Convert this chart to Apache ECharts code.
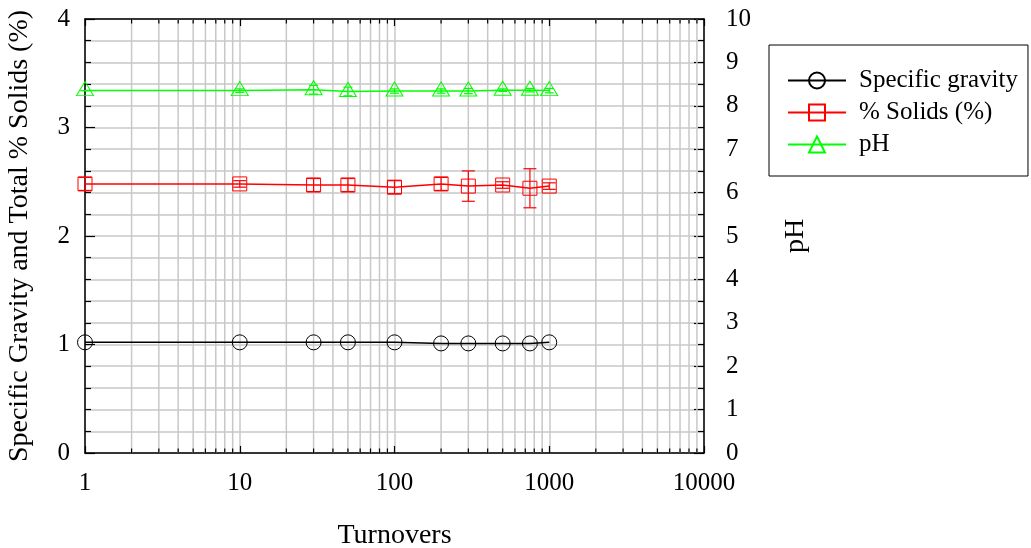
<!DOCTYPE html>
<html>
<head>
<meta charset="utf-8">
<script src="https://cdn.jsdelivr.net/npm/echarts@6/dist/echarts.min.js"></script>
<style>
html,body{margin:0;padding:0;background:#fff;}
#chart{width:1031px;height:548px;}
</style>
</head>
<body>
<div id="chart"></div>
<script>
// ---- data ----
const turnovers = [1, 10, 30, 50, 100, 200, 300, 500, 750, 1000];
const specificGravity = [1.02, 1.02, 1.02, 1.02, 1.02, 1.01, 1.01, 1.01, 1.01, 1.02];
const solids = [2.48, 2.48, 2.47, 2.47, 2.45, 2.48, 2.46, 2.47, 2.44, 2.46];
const solidsErr = [0.06, 0.03, 0.06, 0.06, 0.06, 0.06, 0.14, 0.03, 0.18, 0.03];
const pH = [8.35, 8.35, 8.37, 8.33, 8.34, 8.34, 8.34, 8.36, 8.36, 8.35];
const pHErr = [0, 0.04, 0.1, 0.1, 0.05, 0.05, 0.06, 0.03, 0.04, 0.05];
const xMinorTicks = [2,3,4,5,6,7,8,9,20,30,40,50,60,70,80,90,200,300,400,500,600,700,800,900,2000,3000,4000,5000,6000,7000,8000,9000];
const seriesNames = ['Specific gravity', '% Solids (%)', 'pH'];

const FONT = '"Liberation Serif", "Times New Roman", serif';
const GRID_COLOR = '#c8c8c8';

function zip(xs, ys) { return xs.map((x, i) => [x, ys[i]]); }
function errData(xs, ys, es) { return xs.map((x, i) => [x, ys[i] - es[i], ys[i] + es[i]]); }

function errRender(capW, color) {
  return function (params, api) {
    const x = api.value(0);
    const lo = api.coord([x, api.value(1)]);
    const hi = api.coord([x, api.value(2)]);
    const st = { stroke: color, lineWidth: 1.2 };
    return {
      type: 'group',
      children: [
        { type: 'line', shape: { x1: lo[0], y1: lo[1], x2: hi[0], y2: hi[1] }, style: st },
        { type: 'line', shape: { x1: lo[0] - capW / 2, y1: lo[1], x2: lo[0] + capW / 2, y2: lo[1] }, style: st },
        { type: 'line', shape: { x1: hi[0] - capW / 2, y1: hi[1], x2: hi[0] + capW / 2, y2: hi[1] }, style: st }
      ]
    };
  };
}

const chart = echarts.init(document.getElementById('chart'), null, { renderer: 'canvas' });

const option = {
  animation: false,
  backgroundColor: '#fff',
  textStyle: { fontFamily: FONT },
  grid: { left: 85, right: 327, top: 19, bottom: 95, containLabel: false, outerBoundsMode: 'none' },
  legend: {
    orient: 'vertical',
    left: 769, top: 45,
    padding: [23, 10, 19, 18],
    itemWidth: 58, itemHeight: 20, itemGap: 7,
    itemTextGap: 20,
    borderColor: '#000', borderWidth: 1,
    backgroundColor: '#fff',
    textStyle: { fontFamily: FONT, fontSize: 25, color: '#000', padding: [0, 0, 0, 8] },
    data: seriesNames
  },
  xAxis: [
    {
      type: 'log', logBase: 10, min: 1, max: 10000,
      name: 'Turnovers', nameLocation: 'middle', nameGap: 69,
      nameTextStyle: { fontFamily: FONT, fontSize: 28, color: '#000' },
      axisLine: { show: true, onZero: false, lineStyle: { color: '#000', width: 1.5 } },
      axisTick: { show: true, inside: true, length: 7, lineStyle: { color: '#000', width: 1.2 } },
      axisLabel: { fontFamily: FONT, fontSize: 25, color: '#000', margin: 18, formatter: v => String(v) },
      splitLine: { show: true, lineStyle: { color: GRID_COLOR, width: 1.5 } },
      minorTick: { show: false }
    },
    {
      type: 'log', logBase: 10, min: 1, max: 10000, position: 'top',
      axisLine: { show: true, onZero: false, lineStyle: { color: '#000', width: 1.5 } },
      axisTick: { show: true, inside: true, length: 7, lineStyle: { color: '#000', width: 1.2 } },
      axisLabel: { show: false },
      splitLine: { show: false }
    }
  ],
  yAxis: [
    {
      type: 'value', min: 0, max: 4, interval: 1, position: 'left',
      name: 'Specific Gravity and Total % Solids (%)', nameLocation: 'middle', nameGap: 51,
      nameTextStyle: { fontFamily: FONT, fontSize: 28, color: '#000' },
      axisLine: { show: true, onZero: false, lineStyle: { color: '#000', width: 1.5 } },
      axisTick: { show: true, inside: true, length: 10, lineStyle: { color: '#000', width: 1.2 } },
      minorTick: { show: true, splitNumber: 5, length: 6, lineStyle: { color: '#000', width: 1.2 } },
      axisLabel: { fontFamily: FONT, fontSize: 25, color: '#000', margin: 15 },
      splitLine: { show: true, lineStyle: { color: GRID_COLOR, width: 1.5 } },
      minorSplitLine: { show: true, lineStyle: { color: GRID_COLOR, width: 1.5 } }
    },
    {
      type: 'value', min: 0, max: 10, interval: 1, position: 'right',
      name: 'pH', nameLocation: 'middle', nameGap: 78, nameRotate: 90,
      nameTextStyle: { fontFamily: FONT, fontSize: 28, color: '#000' },
      axisLine: { show: true, onZero: false, lineStyle: { color: '#000', width: 1.5 } },
      axisTick: { show: true, inside: true, length: 10, lineStyle: { color: '#000', width: 1.2 } },
      minorTick: { show: true, splitNumber: 2, length: 6, lineStyle: { color: '#000', width: 1.2 } },
      axisLabel: { fontFamily: FONT, fontSize: 25, color: '#000', margin: 22 },
      splitLine: { show: false }
    }
  ],
  series: [
    {
      type: 'custom', name: 'xminor', silent: true, z: 1,
      xAxisIndex: 0, yAxisIndex: 0,
      encode: { x: 0, y: 1 },
      data: xMinorTicks.map(v => [v, 0]),
      renderItem: function (params, api) {
        const v = api.value(0);
        const b = api.coord([v, 0]);
        const t = api.coord([v, 4]);
        return {
          type: 'group',
          children: [
            { type: 'line', shape: { x1: b[0], y1: b[1], x2: t[0], y2: t[1] }, style: { stroke: GRID_COLOR, lineWidth: 1.5 } },
            { type: 'line', shape: { x1: b[0], y1: b[1], x2: b[0], y2: b[1] - 4.5 }, style: { stroke: '#000', lineWidth: 1.2 } },
            { type: 'line', shape: { x1: t[0], y1: t[1], x2: t[0], y2: t[1] + 4.5 }, style: { stroke: '#000', lineWidth: 1.2 } }
          ]
        };
      }
    },
    {
      type: 'custom', name: 'solidsErr', silent: true, z: 3,
      xAxisIndex: 0, yAxisIndex: 0,
      encode: { x: 0, y: [1, 2] },
      data: errData(turnovers, solids, solidsErr),
      renderItem: errRender(13, '#ff0000')
    },
    {
      type: 'custom', name: 'pHErr', silent: true, z: 3,
      xAxisIndex: 0, yAxisIndex: 1,
      encode: { x: 0, y: [1, 2] },
      data: errData(turnovers, pH, pHErr),
      renderItem: errRender(9, '#00ff00')
    },
    {
      name: seriesNames[0], type: 'line', xAxisIndex: 0, yAxisIndex: 0, z: 4,
      data: zip(turnovers, specificGravity),
      symbol: 'circle', symbolSize: 15,
      lineStyle: { color: '#000', width: 1.5 },
      itemStyle: { color: 'rgba(0,0,0,0)', borderColor: '#000', borderWidth: 1 }
    },
    {
      name: seriesNames[1], type: 'line', xAxisIndex: 0, yAxisIndex: 0, z: 4,
      data: zip(turnovers, solids),
      symbol: 'rect', symbolSize: 14,
      lineStyle: { color: '#ff0000', width: 1.5 },
      itemStyle: { color: 'rgba(0,0,0,0)', borderColor: '#ff0000', borderWidth: 1 }
    },
    {
      name: seriesNames[2], type: 'line', xAxisIndex: 0, yAxisIndex: 1, z: 4,
      data: zip(turnovers, pH),
      symbol: 'triangle', symbolSize: [17, 14], symbolOffset: [0, -2],
      lineStyle: { color: '#00ff00', width: 1.5 },
      itemStyle: { color: 'rgba(0,0,0,0)', borderColor: '#00ff00', borderWidth: 1 }
    }
  ]
};
chart.setOption(option);
</script>
</body>
</html>
